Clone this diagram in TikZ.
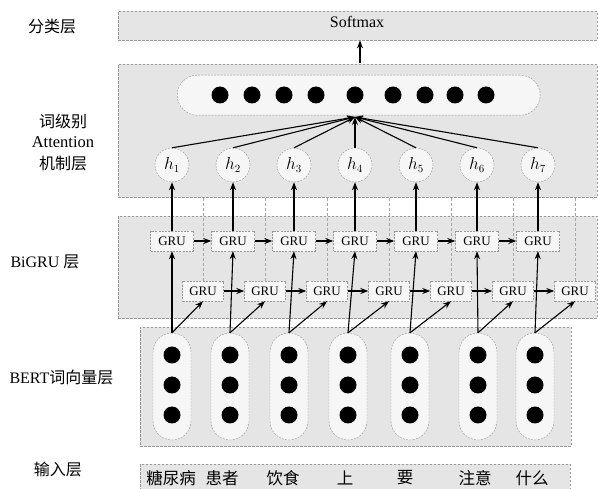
\documentclass[tikz,border=0pt]{standalone}
\usepackage{fontspec}
\setmainfont{Liberation Serif}
\newfontfamily\cjk{Noto Sans CJK SC}
\usetikzlibrary{arrows.meta}
\begin{document}
\begin{tikzpicture}[x=1pt,y=-1pt,
  layerbox/.style={draw=gray!80, dash pattern=on 2.5pt off 1.5pt, fill=gray!20, inner sep=0pt},
  pillbox/.style={draw=gray!80, dash pattern=on 2pt off 1.2pt, fill=gray!7, inner sep=0pt},
  bdot/.style={circle, fill=black, minimum size=17pt, inner sep=0pt},
  hnode/.style={circle, draw=gray!80, dash pattern=on 2pt off 1.2pt, fill=gray!7, minimum size=34pt, inner sep=0pt, font=\fontsize{16}{16}\selectfont},
  gru/.style={draw=gray!80, dash pattern=on 2pt off 1.2pt, fill=gray!7, minimum width=43pt, minimum height=20pt, inner sep=0pt, font=\fontsize{13}{13}\selectfont},
  arr/.style={-{Stealth[length=8pt,width=6pt]}, line width=1.1pt},
  thinln/.style={draw=gray!70, densely dashed, line width=0.5pt},
  lbl/.style={font=\fontsize{16}{18}\selectfont},
  word/.style={font=\fontsize{16.5}{16.5}\selectfont\cjk}
]
\useasboundingbox (0,0) rectangle (598,489);

% layer boxes
\node[layerbox, anchor=north west, minimum width=479pt, minimum height=29pt] (cls) at (118,11) {};
\node[layerbox, anchor=north west, minimum width=479pt, minimum height=133pt] (att) at (118,64) {};
\node[layerbox, anchor=north west, minimum width=479pt, minimum height=102pt] (gru) at (118,216) {};
\node[layerbox, anchor=north west, minimum width=431pt, minimum height=119pt] (bert) at (140,327) {};
\node[layerbox, anchor=north west, minimum width=430pt, minimum height=32pt] (inp) at (140,464) {};

% left labels
\node[lbl] (l1) at (52,27) {\cjk 分类层};
\node[lbl] (l2a) at (63,121) {\cjk 词级别};
\node[lbl, font=\fontsize{16.5}{16.5}\selectfont] (l2b) at (63,142) {Attention};
\node[lbl] (l2c) at (63,163) {\cjk 机制层};
\node[lbl, anchor=west] (l3) at (7,262) {BiGRU {\cjk 层}};
\node[lbl, anchor=west] (l4) at (6,377) {BERT{\cjk 词向量层}};
\node[lbl] (l5) at (58,469) {\cjk 输入层};

% softmax
\node[font=\fontsize{16}{16}\selectfont] (sm) at (357,22) {Softmax};
\coordinate (smin) at (360,63);
\draw[arr] (smin) -- (smin |- cls.south);

% attention pill
\node[pillbox, rounded corners=20pt, anchor=north west, minimum width=363pt, minimum height=40pt] (apill) at (177,75) {};
\foreach \k/\x in {1/220,2/252,3/284,4/316,5/355,6/393,7/425,8/455,9/486}
  \node[bdot] (ad\k) at (\x,95) {};
\coordinate (F) at (355,117);

% columns
\foreach \i/\xt/\xb/\xp in {1/172/203/172,2/233/265/230,3/294/327/289,4/355/389/348,5/416/451/410,6/477/513/478,7/538/575/535}{
  \node[hnode] (h\i) at (\xt,165) {$h_{\i}$};
  \node[gru] (gt\i) at (\xt,241) {GRU};
  \node[gru, minimum width=41pt] (gb\i) at (\xb,291) {GRU};
  \node[pillbox, rounded corners=19pt, minimum width=38pt, minimum height=107pt] (p\i) at (\xp,386.5) {};
  \node[bdot] (pd\i a) at (\xp,355) {};
  \node[bdot] (pd\i b) at (\xp,385) {};
  \node[bdot] (pd\i c) at (\xp,415) {};
  \coordinate (c\i) at (\xb,197);
  \draw[thinln] (gb\i.north) -- (c\i);
  \draw[arr] (h\i.north) -- (F);
  \draw[arr] (gt\i.north) -- (h\i.south);
  \draw[arr] (p\i.north) -- (gt\i.south);
  \draw[arr] (p\i.north) -- (gb\i.south);
}
\foreach \i [evaluate=\i as \j using int(\i+1)] in {1,...,6}{
  \draw[arr] (gt\i.east) -- (gt\j.west);
  \draw[arr] (gb\i.east) -- (gb\j.west);
}

% input words
\node[word] (w1) at (171,478) {糖尿病};
\node[word] (w2) at (222,478) {患者};
\node[word] (w3) at (283,478) {饮食};
\node[word] (w4) at (345,478) {上};
\node[word] (w5) at (405,478) {要};
\node[word] (w6) at (475,478) {注意};
\node[word] (w7) at (532,478) {什么};
\end{tikzpicture}
\end{document}
